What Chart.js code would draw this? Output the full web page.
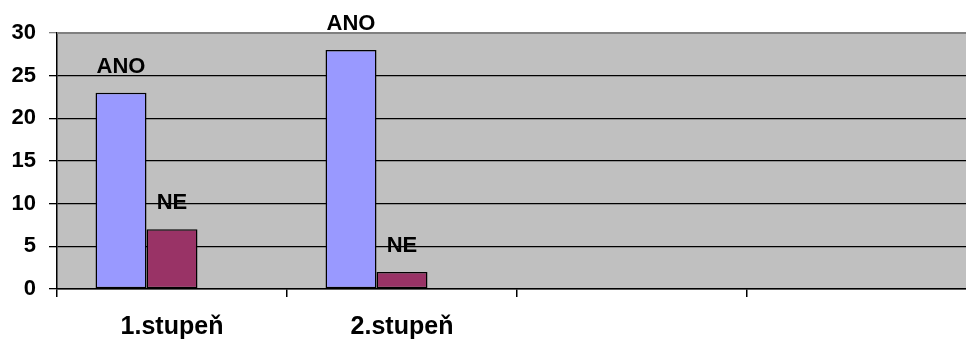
<!DOCTYPE html>
<html>
<head>
<meta charset="utf-8">
<script src="https://cdn.jsdelivr.net/npm/chart.js@4"></script>
<style>
  html, body { margin: 0; padding: 0; background: #fff; overflow: hidden; }
  #wrap { width: 990px; height: 340px; }
</style>
</head>
<body>
<div id="wrap"><canvas id="c" width="990" height="340"></canvas></div>
<script>
// Categories (two empty slots keep the original 4-column layout)
const categories = ['1.stupeň', '2.stupeň', '', ''];
// Answers per level
const anoValues = [23, 28, null, null];
const neValues = [7, 2, null, null];
// Third series has no values but keeps its space in each group
const emptyValues = [null, null, null, null];
const yMax = 30;
const yStep = 5;

const FONT = '"Liberation Sans", Arial, sans-serif';

const plotBackground = {
  id: 'plotBackground',
  beforeDraw(chart) {
    const { ctx, chartArea: a } = chart;
    ctx.save();
    ctx.fillStyle = '#C0C0C0';
    ctx.fillRect(a.left, a.top, a.right - a.left, a.bottom - a.top);
    ctx.restore();
  },
  afterDraw(chart) {
    const { ctx, chartArea: a } = chart;
    ctx.save();
    ctx.strokeStyle = '#808080';
    ctx.lineWidth = 2;
    ctx.beginPath();
    ctx.moveTo(a.left, a.top);
    ctx.lineTo(a.right, a.top);
    ctx.stroke();
    ctx.restore();
  }
};

const seriesLabels = {
  id: 'seriesLabels',
  afterDatasetsDraw(chart) {
    const { ctx } = chart;
    ctx.save();
    ctx.font = 'bold 22px ' + FONT;
    ctx.fillStyle = '#000';
    ctx.textAlign = 'center';
    ctx.textBaseline = 'alphabetic';
    chart.data.datasets.forEach((ds, i) => {
      if (!ds.showLabel) return;
      const meta = chart.getDatasetMeta(i);
      meta.data.forEach((bar, j) => {
        if (ds.data[j] == null) return;
        ctx.fillText(ds.label, bar.x, bar.y - 20);
      });
    });
    ctx.restore();
  }
};

new Chart(document.getElementById('c'), {
  type: 'bar',
  data: {
    labels: categories,
    datasets: [
      { label: 'ANO', data: anoValues, backgroundColor: '#9999FF', showLabel: true },
      { label: 'NE', data: neValues, backgroundColor: '#993366', showLabel: true },
      { label: '', data: emptyValues, backgroundColor: '#FFFFCC' }
    ]
  },
  options: {
    responsive: false,
    animation: false,
    devicePixelRatio: 1,
    layout: { padding: { top: 33, right: 13, left: 0, bottom: 0 } },
    plugins: { legend: { display: false }, tooltip: { enabled: false } },
    datasets: {
      bar: {
        categoryPercentage: 0.665,
        barPercentage: 1.0,
        borderColor: '#000',
        borderWidth: 1.5,
        borderSkipped: false
      }
    },
    scales: {
      x: {
        offset: true,
        grid: { offset: true, drawOnChartArea: false, drawTicks: true, tickLength: 8, color: '#000', lineWidth: 1.5 },
        border: { color: '#000', width: 1.5 },
        ticks: { color: '#000', font: { family: FONT, size: 25, weight: 'bold' }, padding: 15, maxRotation: 0, autoSkip: false },
        afterFit(scale) { scale.height = 51; }
      },
      y: {
        min: 0,
        max: yMax,
        ticks: { stepSize: yStep, color: '#000', font: { family: FONT, size: 22, weight: 'bold' }, padding: 13 },
        grid: {
          color: (c) => (c.tick && c.tick.value === yMax ? '#808080' : '#000'),
          lineWidth: 1.3,
          tickLength: 8,
          drawTicks: true
        },
        border: { color: '#000', width: 1.5 },
        afterFit(scale) { scale.width = 57; }
      }
    }
  },
  plugins: [plotBackground, seriesLabels]
});
</script>
</body>
</html>
